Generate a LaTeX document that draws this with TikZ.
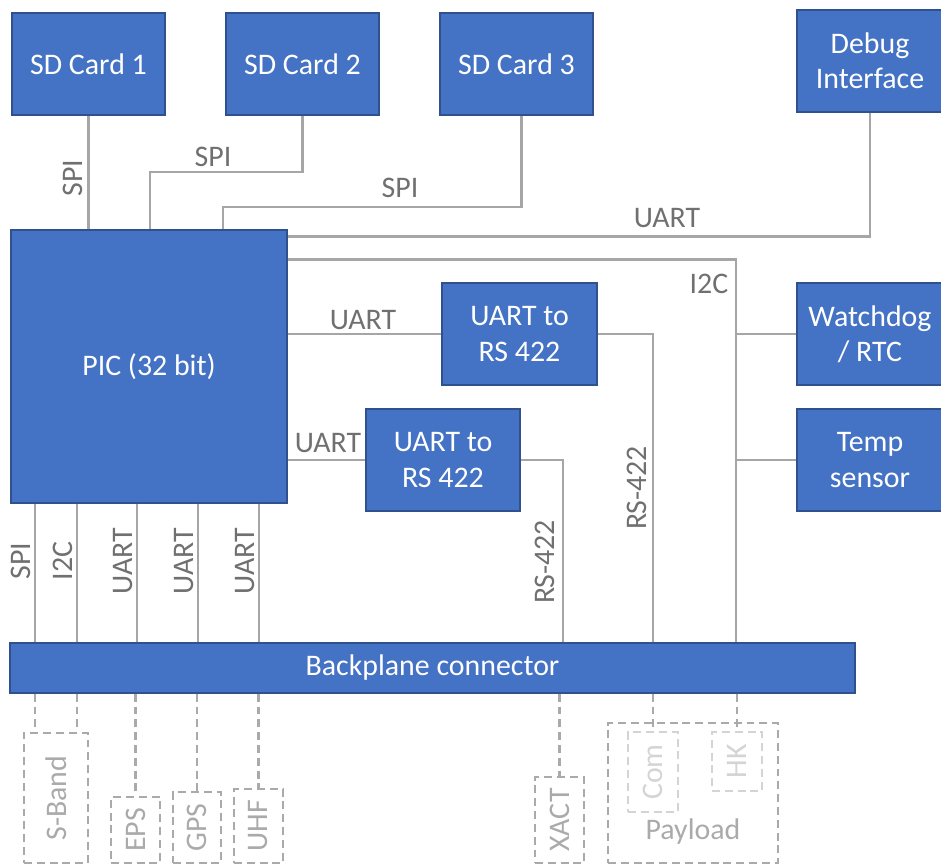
\documentclass[tikz,border=0pt]{standalone}
\usepackage{fontspec}
\setmainfont{Carlito}
\definecolor{blkfill}{RGB}{68,114,196}
\definecolor{blkedge}{RGB}{47,82,143}
\definecolor{busgray}{RGB}{166,166,166}
\definecolor{lblgray}{RGB}{112,112,112}
\definecolor{extgray}{RGB}{170,170,170}
\definecolor{pldgray}{RGB}{212,212,212}

\begin{document}
\begin{tikzpicture}[
  x=0.02cm, y=-0.02cm,
  blk/.style={draw=blkedge, line width=0.8pt, fill=blkfill, text=white, align=center,
              inner sep=0pt, font=\fontsize{17}{20}\selectfont},
  bus/.style={draw=busgray, line width=1.4pt},
  buslbl/.style={text=lblgray, inner sep=1pt, font=\fontsize{17}{20}\selectfont},
  ext/.style={draw=extgray, line width=1.4pt, dash pattern=on 4.5pt off 2.8pt,
              text=extgray, inner sep=0pt, font=\fontsize{17}{20}\selectfont},
  pld/.style={ext, draw=pldgray, text=pldgray}
]

\useasboundingbox (0,0) rectangle (941,865);
\clip (0,0) rectangle (941,865);

% blue blocks
\node[blk, minimum width=3.06cm, minimum height=2.04cm] (sd1) at (88.5,64) {SD Card 1};
\node[blk, minimum width=3.06cm, minimum height=2.04cm] (sd2) at (302.5,64) {SD Card 2};
\node[blk, minimum width=3.06cm, minimum height=2.04cm] (sd3) at (516.5,64) {SD Card 3};
\node[blk, minimum width=2.92cm, minimum height=2.04cm] (debug) at (870,61) {Debug\\Interface};
\node[blk, minimum width=5.52cm, minimum height=5.46cm] (pic) at (149,366.5) {PIC (32 bit)};
\node[blk, minimum width=3.10cm, minimum height=2.04cm] (conva) at (519.5,334) {UART to\\RS 422};
\node[blk, minimum width=3.08cm, minimum height=2.04cm] (convb) at (443,460) {UART to\\RS 422};
\node[blk, minimum width=2.92cm, minimum height=2.04cm] (wdt) at (870,334) {Watchdog\\/ RTC};
\node[blk, minimum width=2.92cm, minimum height=2.04cm] (temp) at (870,460) {Temp\\sensor};
\node[blk, minimum width=16.9cm, minimum height=1.0cm] (bp) at (432.5,668) {Backplane connector};

% buses above the PIC
\draw[bus] (sd1.south) -- (sd1.south |- pic.north);
\draw[bus] (sd2.south) |- (150,172) -- (150,0 |- pic.north);
\draw[bus] ([xshift=0.1cm]sd3.south) |- (223,207) -- (223,0 |- pic.north);
\draw[bus] (debug.south) |- ([yshift=-0.14cm]pic.north east);
\node[buslbl, rotate=90] (lspia) at (73,178) {SPI};
\node[buslbl] (lspib) at (213,157) {SPI};
\node[buslbl] (lspic) at (400,188) {SPI};
\node[buslbl] (luartd) at (667,218) {UART};

% I2C bus on the right
\draw[bus] ([yshift=-0.6cm]pic.north east) -| (736,0 |- bp.north);
\draw[bus] (736,0 |- wdt) -- (wdt.west);
\draw[bus] (736,0 |- temp) -- (temp.west);
\node[buslbl] (li2c) at (709,284) {I2C};

% RS-422 converters
\draw[bus] (pic.east |- conva) -- (conva.west);
\draw[bus] (pic.east |- convb) -- (convb.west);
\draw[bus] (conva.east) -| (653,0 |- bp.north);
\draw[bus] (convb.east) -| (563,0 |- bp.north);
\node[buslbl] (luarta) at (363,320) {UART};
\node[buslbl] (luartb) at (328,443) {UART};
\node[buslbl, rotate=90] (lrsa) at (637,488) {RS-422};
\node[buslbl, rotate=90] (lrsb) at (545,562) {RS-422};

% buses below the PIC
\foreach \x/\t in {35/SPI, 77/I2C, 137/UART, 198/UART, 259/UART} {
  \draw[bus] (\x,0 |- pic.south) -- (\x,0 |- bp.north);
  \node[buslbl, rotate=90, anchor=south] at (\x-2,561) {\t};
}

% external boards
\node[ext, minimum width=1.28cm, minimum height=2.60cm] (sband) at (56,798) {\rotatebox{90}{S-Band}};
\node[ext, minimum width=0.98cm, minimum height=1.32cm] (eps) at (135.5,830) {\rotatebox{90}{EPS}};
\node[ext, minimum width=0.96cm, minimum height=1.42cm] (gps) at (197,827.5) {\rotatebox{90}{GPS}};
\node[ext, minimum width=0.98cm, minimum height=1.48cm] (uhf) at (258.5,826) {\rotatebox{90}{UHF}};
\node[ext, minimum width=0.98cm, minimum height=1.72cm] (xact) at (559.5,820) {\rotatebox{90}{XACT}};
\node[ext, minimum width=3.40cm, minimum height=2.80cm] (payload) at (693,793) {};
\node[ext, draw=none] (lpayload) at (693,832) {Payload};
\node[pld, minimum width=1.00cm, minimum height=1.60cm] (com) at (653,772) {\rotatebox{90}{Com}};
\node[pld, minimum width=1.00cm, minimum height=1.18cm] (hk) at (737,761.5) {\rotatebox{90}{HK}};

\draw[ext] (35,0 |- bp.south) -- (35,0 |- sband.north);
\draw[ext] (77,0 |- bp.south) -- (77,0 |- sband.north);
\foreach \n in {eps, gps, uhf, xact, com, hk} {
  \draw[ext] (\n.north |- bp.south) -- (\n.north);
}

\end{tikzpicture}
\end{document}
